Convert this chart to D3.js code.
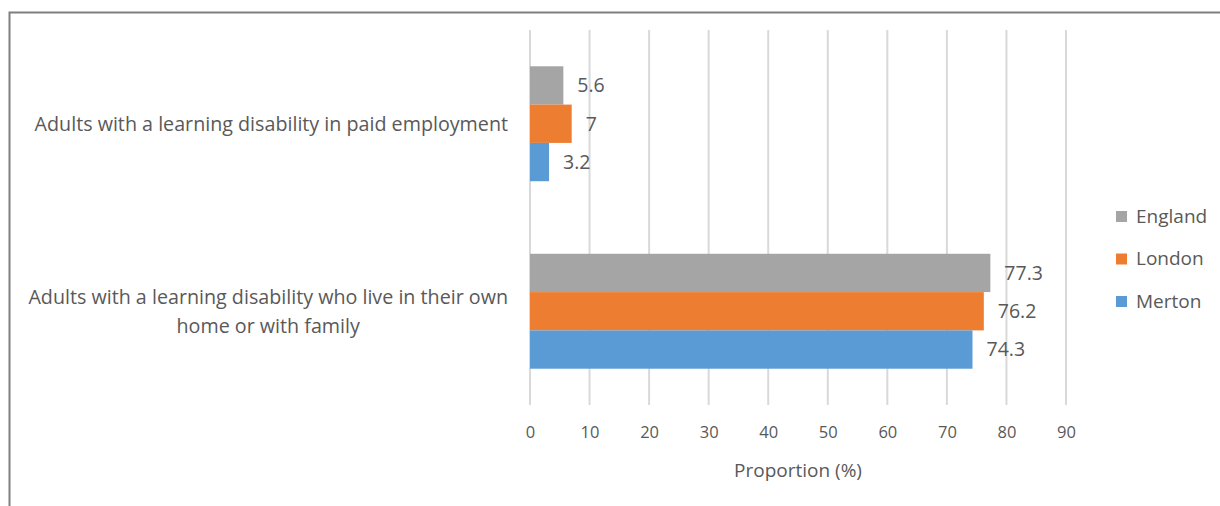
<!DOCTYPE html>
<html>
<head>
<meta charset="utf-8">
<script src="https://cdn.jsdelivr.net/npm/d3@7"></script>
<style>
  body { margin: 0; background: #fff; }
  text { font-family: "Open Sans", sans-serif; fill: #595959; }
</style>
</head>
<body>
<div id="chart"></div>
<script>
// data
const categories = [
  "Adults with a learning disability in paid employment",
  "Adults with a learning disability who live in their own home or with family"
];
const seriesNames = ["England", "London", "Merton"];
const england = [5.6, 77.3];
const london = [7, 76.2];
const merton = [3.2, 74.3];
const xTicks = [0, 10, 20, 30, 40, 50, 60, 70, 80, 90];
const colors = ["#a5a5a5", "#ed7d31", "#5b9bd5"];

const W = 1220, H = 506;
const values = [england, london, merton];

const svg = d3.select("#chart").append("svg")
  .attr("width", W)
  .attr("height", H);

// frame of the chart (only left and top edges show)
svg.append("path")
  .attr("d", `M9.5,${H} V12.5 H${W}`)
  .attr("fill", "none")
  .attr("stroke", "#7f7f7f")
  .attr("stroke-width", 2);

const plot = { left: 530, right: 1066, top: 30, bottom: 405 };

const x = d3.scaleLinear().domain([0, 90]).range([plot.left, plot.right]);

const y = d3.scaleBand()
  .domain(categories)
  .range([plot.top, plot.bottom])
  .paddingInner(0.387)
  .paddingOuter(0.1935);

const ySub = d3.scaleBand()
  .domain(seriesNames)
  .range([0, y.bandwidth()]);

// gridlines
svg.append("g")
  .selectAll("line")
  .data(xTicks)
  .join("line")
  .attr("x1", d => x(d))
  .attr("x2", d => x(d))
  .attr("y1", plot.top)
  .attr("y2", plot.bottom)
  .attr("stroke", "#d9d9d9")
  .attr("stroke-width", 2);

// bars
const rows = [];
categories.forEach((c, i) => {
  seriesNames.forEach((s, j) => {
    rows.push({ cat: c, series: s, value: values[j][i], color: colors[j] });
  });
});

svg.append("g")
  .selectAll("rect")
  .data(rows)
  .join("rect")
  .attr("x", x(0))
  .attr("y", d => y(d.cat) + ySub(d.series))
  .attr("width", d => x(d.value) - x(0))
  .attr("height", ySub.bandwidth())
  .attr("fill", d => d.color);

// value labels
svg.append("g")
  .selectAll("text")
  .data(rows)
  .join("text")
  .attr("x", d => x(d.value) + 14)
  .attr("y", d => y(d.cat) + ySub(d.series) + ySub.bandwidth() / 2)
  .attr("dy", "0.35em")
  .style("font-size", "19.5px")
  .text(d => d.value);

// x axis tick labels
const xAxis = d3.axisBottom(x).tickValues(xTicks).tickSize(0).tickPadding(0);
const gx = svg.append("g")
  .attr("transform", `translate(0,${plot.bottom})`)
  .call(xAxis);
gx.select(".domain").remove();
gx.selectAll("text")
  .attr("y", 27)
  .attr("dy", "0.35em")
  .style("font-size", "16.5px")
  .style("font-family", "'Open Sans', sans-serif")
  .attr("fill", "#595959");

// axis title
svg.append("text")
  .attr("x", (plot.left + plot.right) / 2)
  .attr("y", 470)
  .attr("dy", "0.35em")
  .attr("text-anchor", "middle")
  .style("font-size", "19px")
  .text("Proportion (%)");

// category labels, wrapped and centred, right edge near the axis
const labelRight = 508, maxWidth = 490, lineH = 29;
categories.forEach(c => {
  const t = svg.append("text")
    .attr("text-anchor", "middle")
    .style("font-size", "19.7px");
  const words = c.split(" ");
  let lines = [], line = [];
  const probe = t.append("tspan");
  words.forEach(w => {
    line.push(w);
    probe.text(line.join(" "));
    if (probe.node().getComputedTextLength() > maxWidth && line.length > 1) {
      line.pop();
      lines.push(line.join(" "));
      line = [w];
    }
  });
  lines.push(line.join(" "));
  probe.remove();
  const widths = [];
  lines.forEach(l => {
    const ts = t.append("tspan").text(l);
    widths.push(ts.node().getComputedTextLength());
  });
  const cx = labelRight - d3.max(widths) / 2;
  const cy = y(c) + y.bandwidth() / 2;
  t.selectAll("tspan")
    .attr("x", cx)
    .attr("y", (d, i) => cy + (i - (lines.length - 1) / 2) * lineH)
    .attr("dy", "0.35em");
});

// legend
const legend = svg.append("g")
  .selectAll("g")
  .data(seriesNames)
  .join("g")
  .attr("transform", (d, i) => `translate(1116,${216 + i * 42.5})`);

legend.append("rect")
  .attr("x", 0)
  .attr("y", -5)
  .attr("width", 11)
  .attr("height", 11)
  .attr("fill", (d, i) => colors[i]);

legend.append("text")
  .attr("x", 20)
  .attr("y", 0)
  .attr("dy", "0.35em")
  .style("font-size", "19px")
  .text(d => d);
</script>
</body>
</html>
